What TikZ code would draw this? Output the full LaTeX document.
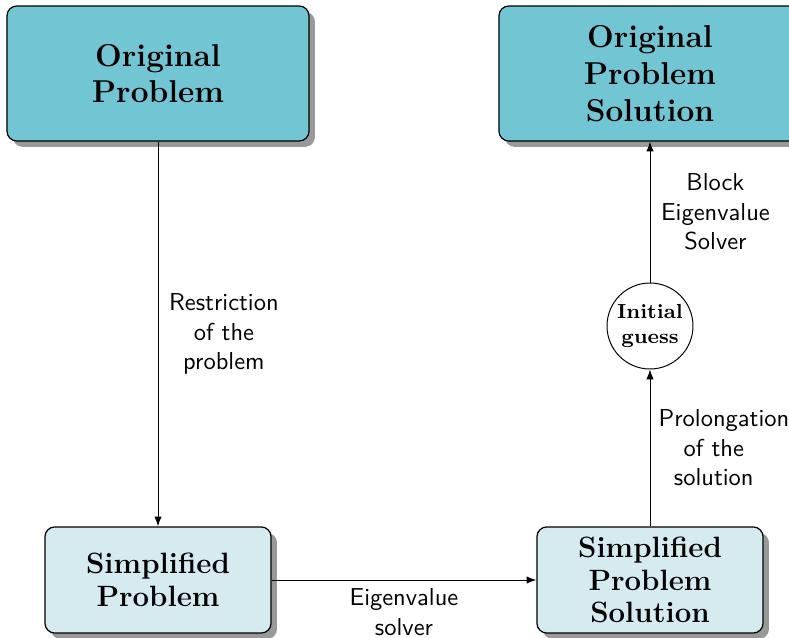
\documentclass[tikz,border=0pt]{standalone}
\usetikzlibrary{shadows,arrows.meta}
\definecolor{topfill}{HTML}{72C6D4}
\definecolor{botfill}{HTML}{D6EBF0}
\begin{document}
\begin{tikzpicture}[x=0.4082pt,y=-0.4082pt,
  bigbox/.style={draw=black, line width=0.5pt, rounded corners=4pt, fill=topfill,
    minimum width=123.3pt, minimum height=55.1pt, align=center,
    font=\fontsize{12.9}{15}\selectfont\bfseries,
    drop shadow={shadow xshift=2.4pt, shadow yshift=-2.4pt, fill=black, opacity=0.4}},
  smallbox/.style={draw=black, line width=0.5pt, rounded corners=4pt, fill=botfill,
    minimum width=92.3pt, minimum height=43.3pt, align=center,
    font=\fontsize{12}{13.4}\selectfont\bfseries,
    drop shadow={shadow xshift=2.4pt, shadow yshift=-2.4pt, fill=black, opacity=0.4}},
  guessnode/.style={draw=black, line width=0.4pt, circle, fill=white, minimum size=35.1pt,
    inner sep=0pt, align=center, font=\fontsize{8.3}{10.5}\selectfont\bfseries},
  conn/.style={-{Latex[length=4pt,width=3pt]}, line width=0.4pt, draw=black},
  lbl/.style={font=\sffamily, align=center}]
\useasboundingbox (0,0) rectangle (789,638);
\clip (0,0) rectangle (789,638);
\node[bigbox] (op) at (158,73.5) {Original\\Problem};
\node[bigbox] (ops) at (650,73.5) {Original\\Problem\\Solution};
\node[smallbox] (sp) at (158,580) {Simplified\\Problem};
\node[smallbox] (sps) at (650,580) {Simplified\\Problem\\Solution};
\node[guessnode] (ig) at (650,326) {Initial\\guess};
\draw[conn] (op.south) -- node[lbl, right, xshift=1pt] (l1) {Restriction\\of the\\problem} (sp.north);
\draw[conn] (sp.east) -- node[lbl, below] (l2) {Eigenvalue\\solver} (sps.west);
\draw[conn] (sps.north) -- node[lbl, right, xshift=0pt, text width=45pt] (l3) {Prolongation\\of the\\solution} (ig.south);
\draw[conn] (ig.north) -- node[lbl, right, xshift=1pt] (l4) {Block\\Eigenvalue\\Solver} (ops.south);
\end{tikzpicture}
\end{document}
